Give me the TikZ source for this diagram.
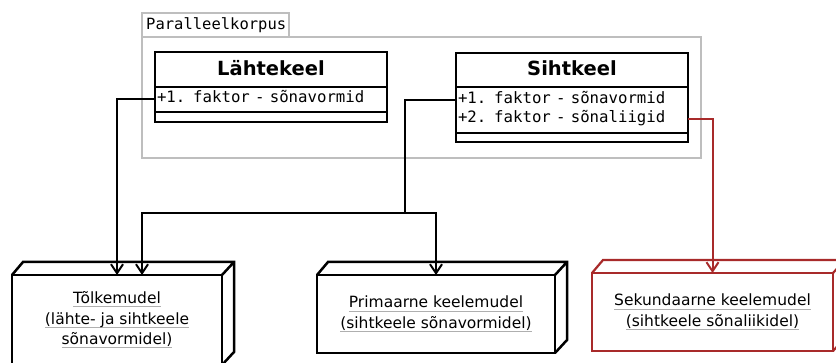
\documentclass[tikz,border=0pt]{standalone}
\usepackage{fontspec}
\setmainfont{DejaVu Sans}
\setmonofont{DejaVu Sans Mono}
\usetikzlibrary{arrows.meta,calc}
\definecolor{pkggray}{RGB}{190,190,190}
\definecolor{ulgray}{RGB}{175,175,175}
\definecolor{darkred}{RGB}{168,42,42}
\newcommand\grayul[1]{\setbox0\hbox{#1}\rlap{\textcolor{ulgray}{\rule[-3.5pt]{\wd0}{0.8pt}}}\box0}
\begin{document}
\begin{tikzpicture}[x=1pt,y=-1pt,
  pkg/.style={draw=pkggray, line width=2.2pt, inner sep=0pt, outer sep=0pt, anchor=north west},
  classbox/.style={draw, line width=2.5pt, minimum width=232pt, inner sep=0pt, outer sep=0pt, anchor=north west},
  classhead/.style={font=\fontsize{19.5}{22}\selectfont\bfseries, anchor=base},
  attrrow/.style={font=\fontsize{15.7}{19}\ttfamily, minimum width=232pt, minimum height=19pt, text width=228pt, inner xsep=2pt, inner ysep=0pt, outer sep=0pt, align=left, text height=12pt, text depth=4pt},
  divider/.style={line width=2.5pt},
  conn/.style={line width=2pt, -{Straight Barb[length=9pt,width=12pt,line width=2pt]}},
  cube/.style={draw, line width=2.5pt, outer sep=0pt, inner sep=0pt, anchor=north west, font=\fontsize{15.5}{20.5}\selectfont, align=center},
  cubeside/.style={line width=2.5pt, line join=miter},
]
\useasboundingbox (0,0) rectangle (836,363);

% package
\node[pkg, minimum width=147pt, minimum height=24pt] (pkgtab) at (142,13) {};
\node[font=\fontsize{15.5}{18}\ttfamily, anchor=base west, inner sep=0pt] (pkgname) at (146,30) {Paralleelkorpus};
\node[pkg, minimum width=559pt, minimum height=121pt] (pkg) at (142,37) {};

% Lähtekeel
\node[classbox, minimum height=70pt] (lahte) at (155,52) {};
\node[classhead] (lahtehead) at (271,76) {Lähtekeel};
\draw[divider] (lahte.west |- 0,87) -- (lahte.east |- 0,87);
\draw[divider] (lahte.west |- 0,112) -- (lahte.east |- 0,112);
\node[attrrow] (la1) at (271,99) {+1. faktor - sõnavormid};

% Sihtkeel
\node[classbox, minimum height=89pt] (siht) at (456,53) {};
\node[classhead] (sihthead) at (572,76) {Sihtkeel};
\draw[divider] (siht.west |- 0,87) -- (siht.east |- 0,87);
\draw[divider] (siht.west |- 0,133) -- (siht.east |- 0,133);
\node[attrrow] (si1) at (572,100) {+1. faktor - sõnavormid};
\node[attrrow] (si2) at (572,119) {+2. faktor - sõnaliigid};

% nodes (3D boxes)
\node[cube, minimum width=210pt, minimum height=90pt] (tol) at (12,275)
  {\grayul{Tõlkemudel}\\\grayul{(lähte- ja sihtkeele}\\\grayul{sõnavormidel)}};
\node[cube, minimum width=238pt, minimum height=78pt] (prim) at (317,275)
  {\grayul{Primaarne keelemudel}\\\grayul{(sihtkeele sõnavormidel)}};
\node[cube, draw=darkred, line width=2.2pt, minimum width=241pt, minimum height=78pt] (sek) at (592,273)
  {\grayul{Sekundaarne keelemudel}\\\grayul{(sihtkeele sõnaliikidel)}};

\foreach \n in {tol,prim}{
  \draw[cubeside] (\n.north west) -- ++(11,-13) -- ($(\n.north east)+(12,-13)$) -- ($(\n.south east)+(12,-13)$) -- (\n.south east)
    (\n.north east) -- ++(12,-13);
}
\draw[cubeside, draw=darkred, line width=2.2pt] (sek.north west) -- ++(11,-13) -- ($(sek.north east)+(12,-13)$) -- ($(sek.south east)+(12,-13)$) -- (sek.south east)
    (sek.north east) -- ++(12,-13);

% connectors
\coordinate (junc) at (405,213);
\coordinate (tolin2) at ($(tol.north)+(25,0)$);
\draw[conn] (la1.west) -| (tol.north);
\draw[line width=2pt] (si1.west) -| (junc);
\draw[conn] (junc) -| (tolin2);
\draw[conn] (junc) -| (prim.north);
\draw[conn, draw=darkred] (si2.east) -| (sek.north);
\end{tikzpicture}
\end{document}
